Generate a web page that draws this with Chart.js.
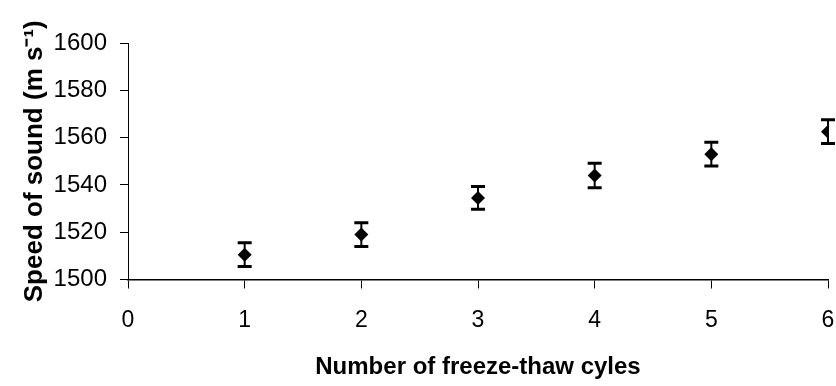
<!DOCTYPE html>
<html>
<head>
<meta charset="utf-8">
<style>
  html, body { margin: 0; padding: 0; background: #fff; }
  #wrap { width: 836px; height: 386px; }
</style>
<script src="https://cdn.jsdelivr.net/npm/chart.js@4/dist/chart.umd.min.js"></script>
</head>
<body>
<div id="wrap"><canvas id="chart" width="836" height="386"></canvas></div>
<script>
// readings from the figure
const cycles = [1, 2, 3, 4, 5, 6];
const speeds = [1510.5, 1519, 1534.5, 1544, 1553, 1562.5];
const errors = [5, 5, 4.8, 5.2, 5, 5];
const yTicks = [1500, 1520, 1540, 1560, 1580, 1600];
const xTicks = [0, 1, 2, 3, 4, 5, 6];

const font = "'Liberation Sans', Arial, Helvetica, sans-serif";

// error bars drawn through the chart's own scales
const errorBars = {
    id: 'errorBars',
    beforeDatasetsDraw(chart) {
        const ctx = chart.ctx;
        const xs = chart.scales.x;
        const ys = chart.scales.y;
        ctx.save();
        ctx.strokeStyle = '#000';
        cycles.forEach((c, i) => {
            const px = xs.getPixelForValue(c);
            const top = ys.getPixelForValue(speeds[i] + errors[i]);
            const bot = ys.getPixelForValue(speeds[i] - errors[i]);
            ctx.lineWidth = 2;
            ctx.beginPath();
            ctx.moveTo(px, top);
            ctx.lineTo(px, bot);
            ctx.stroke();
            ctx.lineWidth = 3;
            ctx.beginPath();
            ctx.moveTo(px - 7, top);
            ctx.lineTo(px + 7, top);
            ctx.moveTo(px - 7, bot);
            ctx.lineTo(px + 7, bot);
            ctx.stroke();
        });
        ctx.restore();
    }
};

new Chart(document.getElementById('chart'), {
    type: 'scatter',
    data: {
        datasets: [{
            data: cycles.map((c, i) => ({ x: c, y: speeds[i] })),
            pointStyle: 'rectRot',
            pointRadius: 7,
            pointHoverRadius: 7,
            backgroundColor: '#000',
            borderColor: '#000',
            borderWidth: 0
        }]
    },
    options: {
        responsive: false,
        animation: false,
        events: [],
        layout: { padding: { top: 43, right: 8, left: 0, bottom: 0 } },
        plugins: { legend: { display: false }, tooltip: { enabled: false } },
        scales: {
            x: {
                type: 'linear',
                min: 0,
                max: 6,
                afterBuildTicks: s => { s.ticks = xTicks.map(v => ({ value: v })); },
                afterFit: s => { s.height = 106.5; s.paddingLeft = 0; s.paddingRight = 0; },
                grid: { drawOnChartArea: false, drawTicks: true, tickLength: 9, color: '#000', lineWidth: 1 },
                border: { color: '#000', width: 1.5 },
                ticks: { color: '#000', padding: 18, font: { family: font, size: 23 }, callback: v => String(v) },
                title: {
                    display: true,
                    text: 'Number of freeze-thaw cyles',
                    color: '#000',
                    padding: { top: 0, bottom: 4 },
                    font: { family: font, size: 24, weight: 'bold' }
                }
            },
            y: {
                min: 1500,
                max: 1600,
                afterBuildTicks: s => { s.ticks = yTicks.map(v => ({ value: v })); },
                afterFit: s => { s.width = 128; },
                grid: { drawOnChartArea: false, drawTicks: true, tickLength: 8, color: '#000', lineWidth: 1 },
                border: { color: '#000', width: 1 },
                ticks: { color: '#000', padding: 13, font: { family: font, size: 24 }, callback: v => String(v) },
                title: {
                    display: true,
                    text: 'Speed of sound (m s\u207B\u00B9)',
                    color: '#000',
                    padding: { top: 19, bottom: 0 },
                    font: { family: font, size: 26, weight: 'bold' }
                }
            }
        }
    },
    plugins: [errorBars]
});
</script>
</body>
</html>
